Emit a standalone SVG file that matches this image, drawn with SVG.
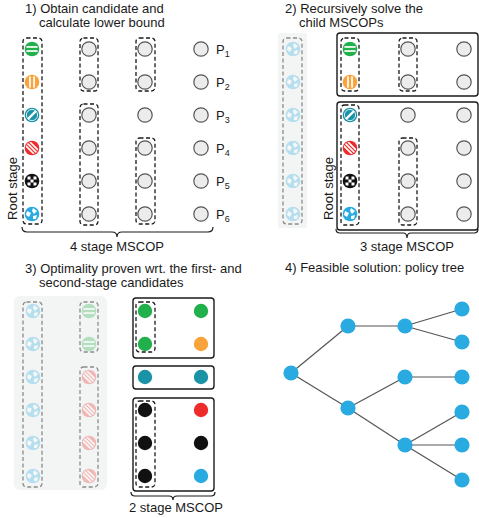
<svg xmlns="http://www.w3.org/2000/svg" xmlns:xlink="http://www.w3.org/1999/xlink" width="479" height="518" viewBox="0 0 479 518">
  <style>
    text { font-family: "Liberation Sans", Arial, sans-serif; fill: #1a1a1a; }
    .title { font-size: 13px; }
    .lbl { font-size: 13px; }
    .sub { font-size: 9px; }
    .opt { fill: #ececec; stroke: #555; stroke-width: 1.2; }
    .dash { fill: none; stroke: #1a1a1a; stroke-width: 1.3; stroke-dasharray: 4 2.5; }
    .dash-faded { fill: none; stroke: #8a8a8a; stroke-width: 1.3; stroke-dasharray: 4 2.5; }
    .frame { fill: none; stroke: #1a1a1a; stroke-width: 1.4; }
    .shade { fill: #f3f5f5; }
    .brace { fill: none; stroke: #1a1a1a; stroke-width: 1.2; }
    .edge { stroke: #555; stroke-width: 1.2; }
    .tnode { fill: #29abe2; }
    .faded { opacity: 0.3; }
  </style>
  <defs>
    <clipPath id="disc"><circle r="6.2"/></clipPath>
    <!-- candidate icons, centred on 0,0 -->
    <g id="ic-green">
      <circle r="7.3" fill="#21b04b"/>
      <rect x="-5.6" y="-2.9" width="11.2" height="1.7" fill="#fff"/>
      <rect x="-5.6" y="1.2" width="11.2" height="1.7" fill="#fff"/>
    </g>
    <g id="ic-orange">
      <circle r="7.3" fill="#f9a33c"/>
      <rect x="-2.9" y="-5.6" width="1.7" height="11.2" fill="#fff"/>
      <rect x="1.2" y="-5.6" width="1.7" height="11.2" fill="#fff"/>
    </g>
    <g id="ic-teal">
      <circle r="7.3" fill="#1a93a6"/>
      <circle r="5.6" fill="none" stroke="#fff" stroke-width="0.8"/>
      <line x1="-4" y1="4" x2="4" y2="-4" stroke="#fff" stroke-width="2.4"/>
    </g>
    <g id="ic-red">
      <circle r="7.3" fill="#ee2b2b"/>
      <g clip-path="url(#disc)" stroke="#fff" stroke-width="1.6">
        <line x1="-9" y1="-5" x2="5" y2="9"/>
        <line x1="-7" y1="-7" x2="7" y2="7"/>
        <line x1="-5" y1="-9" x2="9" y2="5"/>
      </g>
    </g>
    <g id="ic-black">
      <circle r="7.3" fill="#111"/>
      <g clip-path="url(#disc)" fill="#fff">
        <rect x="-4.5" y="-4.5" width="3" height="3"/>
        <rect x="1.5" y="-4.5" width="3" height="3"/>
        <rect x="-1.5" y="-1.5" width="3" height="3"/>
        <rect x="-4.5" y="1.5" width="3" height="3"/>
        <rect x="1.5" y="1.5" width="3" height="3"/>
      </g>
    </g>
    <g id="ic-blue">
      <circle r="7.3" fill="#29abe2"/>
      <g clip-path="url(#disc)" fill="#fff">
        <path d="M-5 -3 L-1 -1 L-3 3 L-6 1 Z"/>
        <path d="M1 -6 L5 -3 L2 0 L0 -3 Z"/>
        <path d="M1 2 L5 1 L4 5 L1 5 Z"/>
      </g>
    </g>
  </defs>

  <!-- Panel 1: candidates and lower bound -->
  <g id="panel1">
    <text class="title" x="25" y="13">1) Obtain candidate and</text>
    <text class="title" x="39" y="27">calculate lower bound</text>

    <g id="p1-root">
      <use xlink:href="#ic-green" x="32" y="49"/>
      <use xlink:href="#ic-orange" x="32" y="82"/>
      <use xlink:href="#ic-teal" x="32" y="115"/>
      <use xlink:href="#ic-red" x="32" y="148"/>
      <use xlink:href="#ic-black" x="32" y="181"/>
      <use xlink:href="#ic-blue" x="32" y="214"/>
      <rect class="dash" x="23" y="38" width="19" height="186" rx="3.5"/>
    </g>
    <g id="p1-stage2">
      <circle class="opt" cx="89" cy="49" r="7.2"/>
      <circle class="opt" cx="89" cy="82" r="7.2"/>
      <circle class="opt" cx="89" cy="115" r="7.2"/>
      <circle class="opt" cx="89" cy="148" r="7.2"/>
      <circle class="opt" cx="89" cy="181" r="7.2"/>
      <circle class="opt" cx="89" cy="214" r="7.2"/>
      <rect class="dash" x="80" y="38" width="18" height="53" rx="3.5"/>
      <rect class="dash" x="80" y="104" width="18" height="121" rx="3.5"/>
    </g>
    <g id="p1-stage3">
      <circle class="opt" cx="145" cy="49" r="7.2"/>
      <circle class="opt" cx="145" cy="82" r="7.2"/>
      <circle class="opt" cx="145" cy="115" r="7.2"/>
      <circle class="opt" cx="145" cy="148" r="7.2"/>
      <circle class="opt" cx="145" cy="181" r="7.2"/>
      <circle class="opt" cx="145" cy="214" r="7.2"/>
      <rect class="dash" x="136" y="38" width="19" height="53" rx="3.5"/>
      <rect class="dash" x="136" y="138" width="19" height="86" rx="3.5"/>
    </g>
    <g id="p1-stage4">
      <circle class="opt" cx="201" cy="49" r="7.2"/>
      <circle class="opt" cx="201" cy="82" r="7.2"/>
      <circle class="opt" cx="201" cy="115" r="7.2"/>
      <circle class="opt" cx="201" cy="148" r="7.2"/>
      <circle class="opt" cx="201" cy="181" r="7.2"/>
      <circle class="opt" cx="201" cy="214" r="7.2"/>
    </g>
    <g id="p1-labels">
      <text class="lbl" x="216" y="54">P<tspan class="sub" dy="3">1</tspan></text>
      <text class="lbl" x="216" y="87">P<tspan class="sub" dy="3">2</tspan></text>
      <text class="lbl" x="216" y="120">P<tspan class="sub" dy="3">3</tspan></text>
      <text class="lbl" x="216" y="153">P<tspan class="sub" dy="3">4</tspan></text>
      <text class="lbl" x="216" y="186">P<tspan class="sub" dy="3">5</tspan></text>
      <text class="lbl" x="216" y="219">P<tspan class="sub" dy="3">6</tspan></text>
    </g>
    <text class="lbl" transform="translate(17,188.5) rotate(-90)" text-anchor="middle">Root stage</text>
    <path class="brace" d="M22 227 Q22 232 27 232 L112 232 Q117 232 117 237 Q117 232 122 232 L208 232 Q213 232 213 227"/>
    <text class="lbl" x="117" y="251" text-anchor="middle">4 stage MSCOP</text>
  </g>

  <!-- Panel 2: recursive child problems -->
  <g id="panel2">
    <text class="title" x="285" y="13">2) Recursively solve the</text>
    <text class="title" x="299" y="27">child MSCOPs</text>

    <g id="p2-solved">
      <rect class="shade" x="278" y="33" width="29" height="195" rx="2"/>
      <g class="faded">
        <use xlink:href="#ic-blue" x="293" y="49"/>
        <use xlink:href="#ic-blue" x="293" y="82"/>
        <use xlink:href="#ic-blue" x="293" y="115"/>
        <use xlink:href="#ic-blue" x="293" y="148"/>
        <use xlink:href="#ic-blue" x="293" y="181"/>
        <use xlink:href="#ic-blue" x="293" y="214"/>
      </g>
      <rect class="dash-faded" x="283" y="38" width="19" height="186" rx="3.5"/>
    </g>

    <g id="p2-child-a">
      <rect class="frame" x="337" y="33" width="141" height="63" rx="3"/>
      <use xlink:href="#ic-green" x="350" y="49"/>
      <use xlink:href="#ic-orange" x="350" y="82"/>
      <rect class="dash" x="341" y="38" width="18" height="53" rx="3.5"/>
      <circle class="opt" cx="408" cy="49" r="7.2"/>
      <circle class="opt" cx="408" cy="82" r="7.2"/>
      <rect class="dash" x="399" y="38" width="18" height="53" rx="3.5"/>
      <circle class="opt" cx="464" cy="49" r="7.2"/>
      <circle class="opt" cx="464" cy="82" r="7.2"/>
    </g>

    <g id="p2-child-b">
      <rect class="frame" x="337" y="102" width="141" height="128" rx="3"/>
      <use xlink:href="#ic-teal" x="350" y="115"/>
      <use xlink:href="#ic-red" x="350" y="148"/>
      <use xlink:href="#ic-black" x="350" y="181"/>
      <use xlink:href="#ic-blue" x="350" y="214"/>
      <rect class="dash" x="341" y="105" width="18" height="120" rx="3.5"/>
      <circle class="opt" cx="408" cy="115" r="7.2"/>
      <circle class="opt" cx="408" cy="148" r="7.2"/>
      <circle class="opt" cx="408" cy="181" r="7.2"/>
      <circle class="opt" cx="408" cy="214" r="7.2"/>
      <rect class="dash" x="399" y="138" width="18" height="87" rx="3.5"/>
      <circle class="opt" cx="464" cy="115" r="7.2"/>
      <circle class="opt" cx="464" cy="148" r="7.2"/>
      <circle class="opt" cx="464" cy="181" r="7.2"/>
      <circle class="opt" cx="464" cy="214" r="7.2"/>
    </g>
    <text class="lbl" transform="translate(333,188.5) rotate(-90)" text-anchor="middle">Root stage</text>
    <path class="brace" d="M336 229 Q336 233 340 233 L403 233 Q407 233 407 238 Q407 233 411 233 L474 233 Q478 233 478 229"/>
    <text class="lbl" x="407" y="251" text-anchor="middle">3 stage MSCOP</text>
  </g>

  <!-- Panel 3: proven candidates -->
  <g id="panel3">
    <text class="title" x="25" y="273">3) Optimality proven wrt. the first- and</text>
    <text class="title" x="39" y="287">second-stage candidates</text>

    <g id="p3-proven">
      <rect class="shade" x="14" y="296" width="93" height="194" rx="6"/>
      <g class="faded">
        <use xlink:href="#ic-blue" x="33" y="311"/>
        <use xlink:href="#ic-blue" x="33" y="344"/>
        <use xlink:href="#ic-blue" x="33" y="377"/>
        <use xlink:href="#ic-blue" x="33" y="410"/>
        <use xlink:href="#ic-blue" x="33" y="443"/>
        <use xlink:href="#ic-blue" x="33" y="476"/>
        <use xlink:href="#ic-green" x="89" y="311"/>
        <use xlink:href="#ic-green" x="89" y="344"/>
        <use xlink:href="#ic-red" x="89" y="377"/>
        <use xlink:href="#ic-red" x="89" y="410"/>
        <use xlink:href="#ic-red" x="89" y="443"/>
        <use xlink:href="#ic-red" x="89" y="476"/>
      </g>
      <rect class="dash-faded" x="23" y="302" width="19" height="185" rx="3.5"/>
      <rect class="dash-faded" x="80" y="302" width="18" height="50" rx="3.5"/>
      <rect class="dash-faded" x="80" y="367" width="18" height="120" rx="3.5"/>
    </g>

    <g id="p3-child-a">
      <rect class="frame" x="133" y="298" width="81" height="60" rx="3"/>
      <circle cx="145" cy="311" r="7.2" fill="#21b04b"/>
      <circle cx="145" cy="344" r="7.2" fill="#21b04b"/>
      <rect class="dash" x="136" y="302" width="19" height="50" rx="3.5"/>
      <circle cx="201" cy="311" r="7.2" fill="#21b04b"/>
      <circle cx="201" cy="344" r="7.2" fill="#f9a33c"/>
    </g>
    <g id="p3-child-b">
      <rect class="frame" x="133" y="366" width="81" height="23" rx="3"/>
      <circle cx="145" cy="377" r="7.2" fill="#1a93a6"/>
      <circle cx="201" cy="377" r="7.2" fill="#1a93a6"/>
    </g>
    <g id="p3-child-c">
      <rect class="frame" x="133" y="398" width="81" height="93" rx="3"/>
      <circle cx="145" cy="410" r="7.2" fill="#111"/>
      <circle cx="145" cy="443" r="7.2" fill="#111"/>
      <circle cx="145" cy="476" r="7.2" fill="#111"/>
      <rect class="dash" x="136" y="401" width="19" height="86" rx="3.5"/>
      <circle cx="201" cy="410" r="7.2" fill="#ee2b2b"/>
      <circle cx="201" cy="443" r="7.2" fill="#111"/>
      <circle cx="201" cy="476" r="7.2" fill="#29abe2"/>
    </g>
    <path class="brace" d="M131 492 Q131 496 135 496 L169 496 Q173 496 173 500 Q173 496 177 496 L211 496 Q215 496 215 492"/>
    <text class="lbl" x="176" y="512" text-anchor="middle">2 stage MSCOP</text>
  </g>

  <!-- Panel 4: policy tree -->
  <g id="panel4">
    <text class="title" x="285" y="272">4) Feasible solution: policy tree</text>
    <g id="tree-edges">
      <line class="edge" x1="291" y1="373" x2="348" y2="326"/>
      <line class="edge" x1="291" y1="373" x2="348" y2="408"/>
      <line class="edge" x1="348" y1="326" x2="405" y2="326"/>
      <line class="edge" x1="348" y1="408" x2="405" y2="377"/>
      <line class="edge" x1="348" y1="408" x2="405" y2="445"/>
      <line class="edge" x1="405" y1="326" x2="462" y2="309"/>
      <line class="edge" x1="405" y1="326" x2="462" y2="342"/>
      <line class="edge" x1="405" y1="377" x2="462" y2="377"/>
      <line class="edge" x1="405" y1="445" x2="462" y2="412"/>
      <line class="edge" x1="405" y1="445" x2="462" y2="445"/>
      <line class="edge" x1="405" y1="445" x2="462" y2="480"/>
    </g>
    <g id="tree-root"><circle class="tnode" cx="291" cy="373" r="7.6"/></g>
    <g id="tree-a"><circle class="tnode" cx="348" cy="326" r="7.6"/></g>
    <g id="tree-b"><circle class="tnode" cx="348" cy="408" r="7.6"/></g>
    <g id="tree-a1"><circle class="tnode" cx="405" cy="326" r="7.6"/></g>
    <g id="tree-b1"><circle class="tnode" cx="405" cy="377" r="7.6"/></g>
    <g id="tree-b2"><circle class="tnode" cx="405" cy="445" r="7.6"/></g>
    <g id="tree-l1"><circle class="tnode" cx="462" cy="309" r="7.6"/></g>
    <g id="tree-l2"><circle class="tnode" cx="462" cy="342" r="7.6"/></g>
    <g id="tree-l3"><circle class="tnode" cx="462" cy="377" r="7.6"/></g>
    <g id="tree-l4"><circle class="tnode" cx="462" cy="412" r="7.6"/></g>
    <g id="tree-l5"><circle class="tnode" cx="462" cy="445" r="7.6"/></g>
    <g id="tree-l6"><circle class="tnode" cx="462" cy="480" r="7.6"/></g>
  </g>
</svg>
